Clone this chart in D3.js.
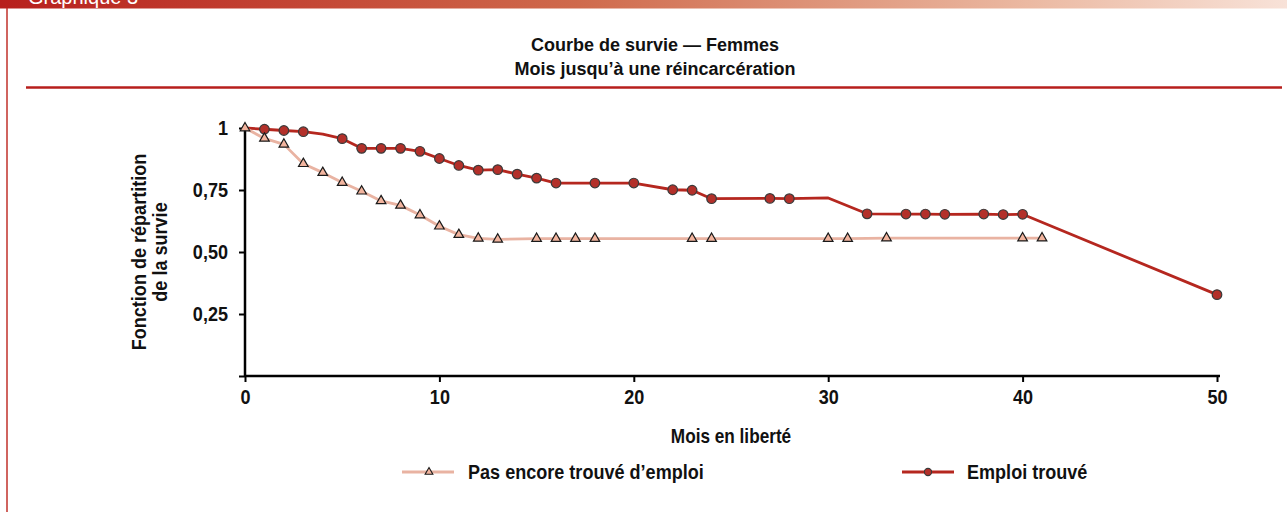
<!DOCTYPE html>
<html>
<head>
<meta charset="utf-8">
<script src="https://cdn.jsdelivr.net/npm/d3@7"></script>
<style>
  html, body { margin: 0; padding: 0; background: #fff; }
  svg { display: block; }
  .cond { font-family: "Liberation Sans", Arial, sans-serif; font-weight: bold; }
</style>
</head>
<body>
<script>
// ---- Data ----
const headerLabel = "Graphique 3";
const titleLines = ["Courbe de survie — Femmes", "Mois jusqu’à une réincarcération"];
const xLabel = "Mois en liberté";
const yLabelLines = ["Fonction de répartition", "de la survie"];

const xTicks = [0, 10, 20, 30, 40, 50];
const yTicks = [0, 0.25, 0.5, 0.75, 1];
const yTickLabels = ["", "0,25", "0,50", "0,75", "1"];

const seriesNames = ["Pas encore trouvé d’emploi", "Emploi trouvé"];

const emploiMonths = [0, 1, 2, 3, 4, 5, 6, 7, 8, 9, 10, 11, 12, 13, 14, 15, 16, 18, 20, 22, 23, 24, 27, 28, 30, 32, 34, 35, 36, 38, 39, 40, 50];
const emploiValues = [1, 0.995, 0.99, 0.985, 0.975, 0.957, 0.918, 0.918, 0.918, 0.906, 0.877, 0.849, 0.830, 0.832, 0.814, 0.798, 0.778, 0.778, 0.778, 0.751, 0.749, 0.715, 0.716, 0.715, 0.718, 0.654, 0.653, 0.653, 0.652, 0.653, 0.651, 0.652, 0.328];
const emploiMarked = [false, true, true, true, false, true, true, true, true, true, true, true, true, true, true, true, true, true, true, true, true, true, true, true, false, true, true, true, true, true, true, true, true];

const pasMonths = [0, 1, 2, 3, 4, 5, 6, 7, 8, 9, 10, 11, 12, 13, 15, 16, 17, 18, 23, 24, 30, 31, 33, 40, 41];
const pasValues = [1, 0.958, 0.934, 0.856, 0.820, 0.780, 0.745, 0.706, 0.688, 0.649, 0.604, 0.570, 0.555, 0.551, 0.554, 0.554, 0.554, 0.554, 0.554, 0.554, 0.554, 0.554, 0.556, 0.556, 0.556];

// ---- Layout ----
const W = 1287, H = 512;
const darkRed = "#b5271f";
const lightLine = "#e9b3a2";
const circleFill = "#b3302a";
const triFill = "#f2b49e";
const K = 0.86; // horizontal condensing of the narrow bold font
const FS = 21;

function condense(sel, k) {
  sel.each(function () {
    const t = d3.select(this);
    const x0 = +t.attr("x") || 0;
    t.attr("transform", `translate(${x0},0) scale(${k},1) translate(${-x0},0)`);
  });
}

const svg = d3.select("body").append("svg").attr("width", W).attr("height", H);

// header gradient band
const defs = svg.append("defs");
const grad = defs.append("linearGradient").attr("id", "band").attr("x1", "0%").attr("x2", "100%");
grad.append("stop").attr("offset", "0%").attr("stop-color", "#b71f1c");
grad.append("stop").attr("offset", "45%").attr("stop-color", "#cf6a4c");
grad.append("stop").attr("offset", "80%").attr("stop-color", "#ebb9a2");
grad.append("stop").attr("offset", "100%").attr("stop-color", "#f8e2d8");
svg.append("rect").attr("x", 0).attr("y", 0).attr("width", W).attr("height", 8.5).attr("fill", "url(#band)");
svg.append("text").attr("x", 28).attr("y", 3.5).attr("fill", "#fff")
  .attr("font-family", "Liberation Sans, Arial, sans-serif").attr("font-size", 20)
  .text(headerLabel);

// left border
svg.append("line").attr("x1", 7).attr("x2", 7).attr("y1", 8).attr("y2", H)
  .attr("stroke", "#c0302a").attr("stroke-width", 1.5);

// title
svg.append("g").selectAll("text").data(titleLines).join("text")
  .attr("x", 655).attr("y", (d, i) => 51 + i * 24)
  .attr("text-anchor", "middle")
  .attr("font-family", "Liberation Sans, Arial, sans-serif")
  .attr("font-weight", "bold").attr("font-size", 18).attr("fill", "#111")
  .text(d => d);

// rule under title
svg.append("line").attr("x1", 26).attr("x2", 1282).attr("y1", 87.5).attr("y2", 87.5)
  .attr("stroke", "#b71f1c").attr("stroke-width", 2.5);

// scales
const x = d3.scaleLinear().domain([0, 50]).range([245, 1217]);
const y = d3.scaleLinear().domain([0, 1]).range([376, 128]);

// axes
const xAxis = d3.axisBottom(x).tickValues(xTicks).tickSize(6).tickPadding(7).tickFormat(d3.format("d"));
const yAxis = d3.axisLeft(y).tickValues(yTicks).tickSize(6).tickPadding(11).tickFormat((d, i) => yTickLabels[i]);

const gx = svg.append("g").attr("transform", `translate(0,${y(0)})`).call(xAxis);
const gy = svg.append("g").attr("transform", `translate(${x(0)},0)`).call(yAxis);
[gx, gy].forEach(g => {
  g.attr("font-size", null).attr("font-family", null);
  g.select(".domain").remove();
  g.selectAll(".tick line").attr("stroke", "#000").attr("stroke-width", 2);
  g.selectAll(".tick text").attr("class", "cond").attr("font-size", FS).attr("fill", "#111");
  condense(g.selectAll(".tick text"), K);
});
gx.append("line").attr("x1", x(0)).attr("x2", x(50) + 3).attr("y1", 0).attr("y2", 0).attr("stroke", "#000").attr("stroke-width", 2.5);
gy.append("line").attr("x1", 0).attr("x2", 0).attr("y1", y(0) + 1).attr("y2", y(1)).attr("stroke", "#000").attr("stroke-width", 2.5);
gx.selectAll(".tick text").attr("dy", "0.71em");

// axis labels
const xl = svg.append("text").attr("class", "cond").attr("x", 731).attr("y", 443)
  .attr("text-anchor", "middle").attr("font-size", 20).attr("fill", "#111").text(xLabel);
condense(xl, K);
const yl = svg.append("g").attr("transform", "translate(149,252) rotate(-90)")
  .selectAll("text").data(yLabelLines).join("text")
  .attr("class", "cond").attr("x", 0).attr("y", (d, i) => -3 + i * 21)
  .attr("text-anchor", "middle").attr("font-size", FS).attr("fill", "#111").text(d => d);
condense(yl, K);

// series
const emploi = emploiMonths.map((m, i) => ({ m, v: emploiValues[i], mk: emploiMarked[i] }));
const pas = pasMonths.map((m, i) => ({ m, v: pasValues[i] }));
const line = d3.line().x(d => x(d.m)).y(d => y(d.v));

svg.append("path").datum(emploi).attr("d", line).attr("fill", "none")
  .attr("stroke", darkRed).attr("stroke-width", 2.8).attr("stroke-linejoin", "round");
svg.append("g").selectAll("circle").data(emploi.filter(d => d.mk)).join("circle")
  .attr("cx", d => x(d.m)).attr("cy", d => y(d.v)).attr("r", 4.8)
  .attr("fill", circleFill).attr("stroke", "#3a3a3a").attr("stroke-width", 1.2);

svg.append("path").datum(pas).attr("d", line).attr("fill", "none")
  .attr("stroke", lightLine).attr("stroke-width", 2.8).attr("stroke-linejoin", "round");
const tri = d3.symbol().type(d3.symbolTriangle).size(40);
svg.append("g").selectAll("path").data(pas).join("path")
  .attr("d", tri).attr("transform", d => `translate(${x(d.m)},${y(d.v)})`)
  .attr("fill", triFill).attr("stroke", "#1a1a1a").attr("stroke-width", 1.2);

// legend
const lg = svg.append("g");
lg.append("line").attr("x1", 402).attr("x2", 454).attr("y1", 472).attr("y2", 472)
  .attr("stroke", lightLine).attr("stroke-width", 2.8);
lg.append("path").attr("d", d3.symbol().type(d3.symbolTriangle).size(26)())
  .attr("transform", "translate(429,472)").attr("fill", triFill).attr("stroke", "#1a1a1a").attr("stroke-width", 1.1);
const lt1 = lg.append("text").attr("class", "cond").attr("x", 468).attr("y", 479.5)
  .attr("font-size", FS).attr("fill", "#111").text(seriesNames[0]);
condense(lt1, K);

lg.append("line").attr("x1", 902).attr("x2", 954).attr("y1", 472).attr("y2", 472)
  .attr("stroke", darkRed).attr("stroke-width", 2.8);
lg.append("circle").attr("cx", 928).attr("cy", 472).attr("r", 3.6)
  .attr("fill", circleFill).attr("stroke", "#3a3a3a").attr("stroke-width", 1.1);
const lt2 = lg.append("text").attr("class", "cond").attr("x", 967).attr("y", 479.5)
  .attr("font-size", FS).attr("fill", "#111").text(seriesNames[1]);
condense(lt2, K);
</script>
</body>
</html>
